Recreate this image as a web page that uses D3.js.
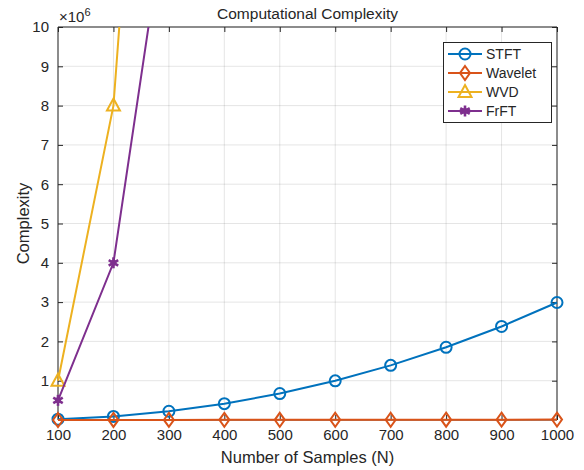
<!DOCTYPE html>
<html><head><meta charset="utf-8">
<script src="https://cdn.jsdelivr.net/npm/d3@7"></script>
<style>body{margin:0;background:#fff}svg{display:block}text{font-family:"Liberation Sans",Arial,sans-serif;fill:#262626}</style>
</head><body><svg id="c" width="584" height="470"></svg>
<script>
const samples = [100,200,300,400,500,600,700,800,900,1000];
const stft = [0.02e6,0.092e6,0.222e6,0.415e6,0.673e6,0.997e6,1.39e6,1.85e6,2.38e6,2.99e6];
const wavelet = [700,1500,2500,3500,4500,5500,6600,7700,8800,10000];
const wvd = [1e6,8e6,27e6,64e6,125e6,216e6,343e6,512e6,729e6,1000e6];
const frft = [0.5e6,4e6,13.5e6,32e6,62.5e6,108e6,171.5e6,256e6,364.5e6,500e6];
const seriesNames = ["STFT","Wavelet","WVD","FrFT"];
const colors = ["#0072BD","#D95319","#EDB120","#7E2F8E"];
const xTicks = samples;
const yTicks = [1e6,2e6,3e6,4e6,5e6,6e6,7e6,8e6,9e6,10e6];

const svg = d3.select("#c");
const L=58,R=557,T=27,B=420;
const x = d3.scaleLinear().domain([100,1000]).range([L,R]);
const y = d3.scaleLinear().domain([0,10e6]).range([B,T]);

// grid
const g = svg.append("g");
g.selectAll(".gx").data(xTicks).enter().append("line")
 .attr("x1",d=>x(d)).attr("x2",d=>x(d)).attr("y1",T).attr("y2",B)
 .attr("stroke","#262626").attr("stroke-opacity",0.12).attr("stroke-width",1);
g.selectAll(".gy").data(yTicks).enter().append("line")
 .attr("x1",L).attr("x2",R).attr("y1",d=>y(d)).attr("y2",d=>y(d))
 .attr("stroke","#262626").attr("stroke-opacity",0.12).attr("stroke-width",1);

// axes
const fmtY = d=>d3.format("d")(d/1e6);
const axB = d3.axisBottom(x).tickValues(xTicks).tickSize(-5).tickPadding(9).tickFormat(d3.format("d"));
const axT = d3.axisTop(x).tickValues(xTicks).tickSize(-5).tickFormat("");
const axLft = d3.axisLeft(y).tickValues(yTicks).tickSize(-5).tickPadding(9).tickFormat(fmtY);
const axRgt = d3.axisRight(y).tickValues(yTicks).tickSize(-5).tickFormat("");
function style(sel){sel.selectAll("path").attr("stroke","#262626").attr("stroke-width",1);
 sel.selectAll("line").attr("stroke","#262626");
 sel.selectAll("text").attr("font-size",15).attr("fill","#262626").style("font-family","Liberation Sans, Arial, sans-serif");}
svg.append("g").attr("transform",`translate(0,${B})`).call(axB).call(style).call(s=>s.select(".domain").attr("d",`M${L},0H${R}`));
svg.append("g").attr("transform",`translate(0,${T})`).call(axT).call(style).call(s=>s.select(".domain").attr("d",`M${L},0H${R}`));
svg.append("g").attr("transform",`translate(${L},0)`).call(axLft).call(style).call(s=>s.select(".domain").attr("d",`M0,${T}V${B}`));
svg.append("g").attr("transform",`translate(${R},0)`).call(axRgt).call(style).call(s=>s.select(".domain").attr("d",`M0,${T}V${B}`));

// clip
svg.append("clipPath").attr("id","clip").append("rect").attr("x",L-10).attr("y",T).attr("width",R-L+20).attr("height",B-T+12);

const data = [stft,wavelet,wvd,frft];
const line = d3.line().x((d,i)=>x(samples[i])).y(d=>y(d));
const plot = svg.append("g").attr("clip-path","url(#clip)");

function marker(sel, k, cx, cy){
  const c = colors[k];
  if(k===0) sel.append("circle").attr("cx",cx).attr("cy",cy).attr("r",5.5).attr("fill","none").attr("stroke",c).attr("stroke-width",2);
  else if(k===1) sel.append("path").attr("d",`M${cx},${cy-7}L${cx+5},${cy}L${cx},${cy+7}L${cx-5},${cy}Z`).attr("fill","none").attr("stroke",c).attr("stroke-width",2);
  else if(k===2) sel.append("path").attr("d",`M${cx},${cy-7}L${cx+6.5},${cy+5}L${cx-6.5},${cy+5}Z`).attr("fill","none").attr("stroke",c).attr("stroke-width",2);
  else { for(const a of [0,60,120]){ const r=a*Math.PI/180, dx=Math.sin(r)*5.5, dy=Math.cos(r)*5.5;
     sel.append("line").attr("x1",cx-dx).attr("y1",cy-dy).attr("x2",cx+dx).attr("y2",cy+dy).attr("stroke",c).attr("stroke-width",2.6);}
     sel.append("circle").attr("cx",cx).attr("cy",cy).attr("r",3).attr("fill",c);}
}
data.forEach((vals,k)=>{
  plot.append("path").datum(vals).attr("d",line).attr("fill","none").attr("stroke",colors[k]).attr("stroke-width",2);
  vals.forEach((v,i)=>{ if(v<=10e6) marker(plot,k,x(samples[i]),y(v)); });
});

// labels
svg.append("text").attr("x",(L+R)/2).attr("y",19).attr("text-anchor","middle").attr("font-size",15.5).text("Computational Complexity");
svg.append("text").attr("x",(L+R)/2).attr("y",463).attr("text-anchor","middle").attr("font-size",16.5).text("Number of Samples (N)");
svg.append("text").attr("transform",`translate(29,${(T+B)/2}) rotate(-90)`).attr("text-anchor","middle").attr("font-size",16.5).text("Complexity");
const ex = svg.append("text").attr("x",59).attr("y",22).attr("font-size",15);
ex.append("tspan").text("\u00d710");
ex.append("tspan").attr("dy",-6).attr("font-size",11).text("6");

// legend
const lg = svg.append("g");
lg.append("rect").attr("x",443.5).attr("y",42.5).attr("width",108).attr("height",80).attr("fill","#fff").attr("stroke","#262626").attr("stroke-width",1);
seriesNames.forEach((n,k)=>{
  const yy = 54+k*19;
  lg.append("line").attr("x1",448).attr("x2",482).attr("y1",yy).attr("y2",yy).attr("stroke",colors[k]).attr("stroke-width",2);
  marker(lg,k,465,yy);
  lg.append("text").attr("x",486).attr("y",yy+5).attr("font-size",14).text(n);
});
</script></body></html>
